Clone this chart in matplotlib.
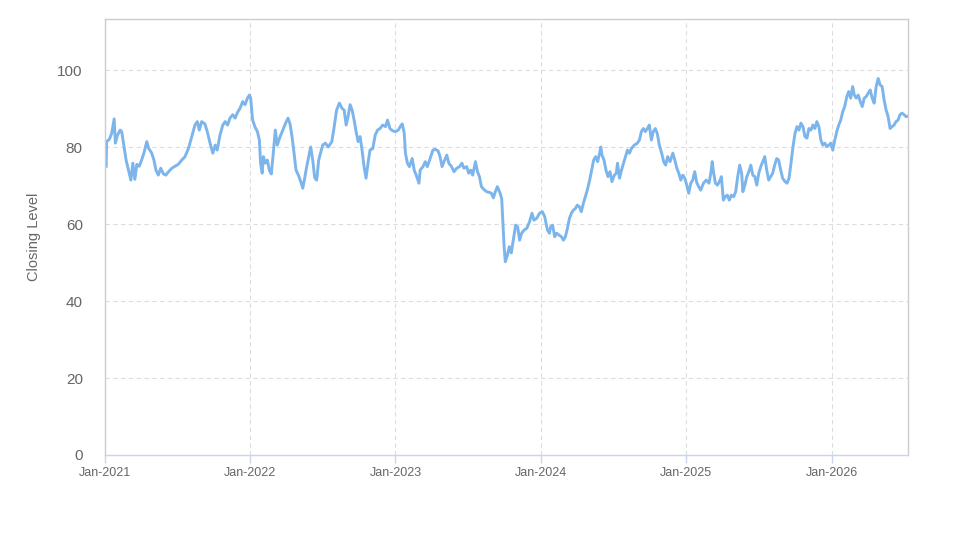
import matplotlib
matplotlib.use("Agg")
import matplotlib.pyplot as plt
import matplotlib.dates as mdates
import pandas as pd

plt.rcParams['font.family'] = ['Liberation Sans', 'DejaVu Sans']

dates = [
    "2021-01-04", "2021-01-05", "2021-01-12", "2021-01-18", "2021-01-24", "2021-01-27", "2021-02-01",
    "2021-02-08", "2021-02-12", "2021-02-18", "2021-02-23", "2021-03-01", "2021-03-07", "2021-03-12",
    "2021-03-17", "2021-03-22", "2021-03-28", "2021-04-03", "2021-04-09", "2021-04-16", "2021-04-21",
    "2021-04-28", "2021-05-04", "2021-05-09", "2021-05-15", "2021-05-21", "2021-05-28", "2021-06-03",
    "2021-06-09", "2021-06-18", "2021-06-26", "2021-07-04", "2021-07-13", "2021-07-21", "2021-07-30",
    "2021-08-07", "2021-08-15", "2021-08-21", "2021-08-26", "2021-09-01", "2021-09-09", "2021-09-15",
    "2021-09-22", "2021-09-29", "2021-10-05", "2021-10-10", "2021-10-17", "2021-10-24", "2021-10-30",
    "2021-11-05", "2021-11-11", "2021-11-18", "2021-11-24", "2021-11-30", "2021-12-06", "2021-12-13",
    "2021-12-19", "2021-12-25", "2021-12-30",
    "2022-01-02", "2022-01-07", "2022-01-13", "2022-01-19", "2022-01-24", "2022-01-27", "2022-01-31",
    "2022-02-03", "2022-02-08", "2022-02-13", "2022-02-18", "2022-02-23", "2022-02-28", "2022-03-05",
    "2022-03-10", "2022-03-17", "2022-03-24", "2022-03-30", "2022-04-06", "2022-04-11", "2022-04-16",
    "2022-04-21", "2022-04-26", "2022-05-02", "2022-05-08", "2022-05-13", "2022-05-18", "2022-05-23",
    "2022-05-28", "2022-06-02", "2022-06-07", "2022-06-12", "2022-06-17", "2022-06-22", "2022-06-27",
    "2022-07-02", "2022-07-09", "2022-07-16", "2022-07-25", "2022-07-31", "2022-08-06", "2022-08-13",
    "2022-08-20", "2022-08-25", "2022-08-30", "2022-09-04", "2022-09-09", "2022-09-14", "2022-09-19",
    "2022-09-24", "2022-09-29", "2022-10-04", "2022-10-09", "2022-10-14", "2022-10-19", "2022-10-24",
    "2022-10-29", "2022-11-05", "2022-11-11", "2022-11-17", "2022-11-23", "2022-11-30", "2022-12-07",
    "2022-12-12", "2022-12-18", "2022-12-25",
    "2023-01-01", "2023-01-08", "2023-01-13", "2023-01-18", "2023-01-23", "2023-01-26", "2023-01-31",
    "2023-02-05", "2023-02-12", "2023-02-17", "2023-02-22", "2023-03-01", "2023-03-04", "2023-03-11",
    "2023-03-17", "2023-03-22", "2023-03-29", "2023-04-05", "2023-04-11", "2023-04-18", "2023-04-23",
    "2023-04-28", "2023-05-03", "2023-05-10", "2023-05-15", "2023-05-22", "2023-05-28", "2023-06-04",
    "2023-06-11", "2023-06-17", "2023-06-22", "2023-06-29", "2023-07-04", "2023-07-09", "2023-07-14",
    "2023-07-21", "2023-07-26", "2023-07-31", "2023-08-05", "2023-08-12", "2023-08-18", "2023-08-25",
    "2023-08-30", "2023-09-04", "2023-09-09", "2023-09-14", "2023-09-21", "2023-09-25", "2023-09-28",
    "2023-10-01", "2023-10-04", "2023-10-09", "2023-10-14", "2023-10-19", "2023-10-24", "2023-10-30",
    "2023-11-04", "2023-11-09", "2023-11-14", "2023-11-20", "2023-11-27", "2023-12-04", "2023-12-10",
    "2023-12-15", "2023-12-22", "2023-12-29",
    "2024-01-05", "2024-01-11", "2024-01-18", "2024-01-23", "2024-01-26", "2024-01-31", "2024-02-05",
    "2024-02-10", "2024-02-15", "2024-02-22", "2024-02-27", "2024-03-03", "2024-03-08", "2024-03-13",
    "2024-03-18", "2024-03-23", "2024-03-28", "2024-04-02", "2024-04-07", "2024-04-12", "2024-04-17",
    "2024-04-22", "2024-04-27", "2024-05-03", "2024-05-08", "2024-05-13", "2024-05-18", "2024-05-23",
    "2024-05-28", "2024-05-31", "2024-06-03", "2024-06-08", "2024-06-13", "2024-06-18", "2024-06-23",
    "2024-06-28", "2024-07-04", "2024-07-09", "2024-07-12", "2024-07-17", "2024-07-22", "2024-07-27",
    "2024-08-01", "2024-08-06", "2024-08-11", "2024-08-16", "2024-08-23", "2024-08-30", "2024-09-05",
    "2024-09-10", "2024-09-15", "2024-09-20", "2024-09-25", "2024-09-30", "2024-10-05", "2024-10-10",
    "2024-10-15", "2024-10-20", "2024-10-25", "2024-10-31", "2024-11-05", "2024-11-10", "2024-11-15",
    "2024-11-21", "2024-11-28", "2024-12-03", "2024-12-08", "2024-12-13", "2024-12-18", "2024-12-23",
    "2024-12-28",
    "2025-01-02", "2025-01-07", "2025-01-12", "2025-01-17", "2025-01-22", "2025-01-27", "2025-02-01",
    "2025-02-06", "2025-02-13", "2025-02-20", "2025-02-27", "2025-03-04", "2025-03-07", "2025-03-10",
    "2025-03-15", "2025-03-20", "2025-03-25", "2025-03-30", "2025-04-04", "2025-04-09", "2025-04-14",
    "2025-04-19", "2025-04-24", "2025-04-30", "2025-05-05", "2025-05-10", "2025-05-15", "2025-05-20",
    "2025-05-23", "2025-05-28", "2025-06-02", "2025-06-07", "2025-06-12", "2025-06-17", "2025-06-22",
    "2025-06-27", "2025-07-02", "2025-07-07", "2025-07-12", "2025-07-17", "2025-07-22", "2025-07-27",
    "2025-08-01", "2025-08-06", "2025-08-11", "2025-08-16", "2025-08-21", "2025-08-26", "2025-08-31",
    "2025-09-06", "2025-09-11", "2025-09-16", "2025-09-21", "2025-09-26", "2025-10-01", "2025-10-06",
    "2025-10-11", "2025-10-16", "2025-10-21", "2025-10-26", "2025-10-31", "2025-11-05", "2025-11-10",
    "2025-11-15", "2025-11-20", "2025-11-25", "2025-11-30", "2025-12-05", "2025-12-10", "2025-12-15",
    "2025-12-20", "2025-12-25", "2025-12-30",
    "2026-01-04", "2026-01-09", "2026-01-14", "2026-01-19", "2026-01-24", "2026-01-29", "2026-02-03",
    "2026-02-08", "2026-02-13", "2026-02-18", "2026-02-23", "2026-02-27", "2026-03-04", "2026-03-09",
    "2026-03-14", "2026-03-19", "2026-03-24", "2026-03-29", "2026-04-03", "2026-04-08", "2026-04-13",
    "2026-04-18", "2026-04-23", "2026-04-28", "2026-05-03", "2026-05-08", "2026-05-13", "2026-05-18",
    "2026-05-23", "2026-05-28", "2026-06-02", "2026-06-07", "2026-06-12", "2026-06-17", "2026-06-22",
    "2026-06-27", "2026-07-02", "2026-07-07", "2026-07-11",
]

closing = [
    75.0, 81.4, 82.0, 83.6, 87.3, 81.0, 83.0,
    84.4, 84.0, 80.0, 76.6, 74.0, 71.4, 75.8,
    71.6, 75.5, 75.0, 76.6, 78.5, 81.4, 79.6,
    78.5, 76.6, 74.0, 72.7, 74.5, 73.0, 72.7,
    73.5, 74.5, 75.0, 75.5, 76.6, 77.5, 79.7,
    82.7, 85.7, 86.6, 84.4, 86.6, 86.0, 84.0,
    81.0, 78.4, 80.5, 79.2, 83.1, 85.7, 86.6,
    85.7, 87.5, 88.4, 87.5, 89.0, 90.0, 91.8,
    91.0, 92.7, 93.5,
    92.7, 87.0, 85.2, 84.0, 81.8, 75.8, 73.2,
    77.5, 75.8, 76.6, 74.0, 73.0, 78.5, 84.4,
    80.5, 82.7, 84.4, 86.0, 87.5, 86.0, 82.7,
    78.5, 74.0, 72.7, 71.0, 69.3, 72.0, 75.0,
    77.5, 80.0, 76.6, 72.0, 71.4, 76.6, 78.5,
    80.5, 81.0, 80.0, 81.4, 85.3, 89.6, 91.4,
    90.0, 89.6, 85.7, 88.0, 91.0, 89.6, 87.0,
    84.0, 81.4, 82.7, 79.2, 74.9, 71.9, 75.8,
    79.2, 79.6, 83.1, 84.4, 84.8, 85.7, 85.3,
    87.0, 84.8, 84.2,
    84.0, 84.4, 85.3, 86.0, 83.6, 78.4, 75.8,
    74.9, 77.0, 74.0, 72.7, 70.6, 74.0, 74.9,
    76.2, 74.9, 77.0, 79.2, 79.4, 79.0, 77.5,
    74.9, 76.2, 77.9, 75.8, 74.9, 73.6, 74.5,
    74.9, 75.8, 74.5, 74.9, 73.2, 74.0, 72.7,
    76.2, 73.6, 72.3, 69.7, 68.9, 68.4, 68.2,
    68.0, 66.8, 68.4, 69.7, 68.0, 66.5, 60.3,
    54.1, 50.2, 51.8, 54.1, 52.5, 55.8, 59.7,
    59.3, 55.8, 57.6, 58.4, 58.9, 60.6, 62.8,
    61.0, 61.5, 62.8,
    63.2, 61.9, 58.4, 57.6, 59.3, 59.7, 56.7,
    57.6, 57.2, 56.7, 55.8, 56.7, 58.8, 61.4,
    62.8, 63.6, 64.0, 64.9, 64.5, 63.2, 65.3,
    67.1, 68.8, 71.4, 74.0, 76.6, 77.5, 76.2,
    78.4, 80.0, 77.9, 76.6, 74.0, 72.3, 73.6,
    71.0, 72.7, 73.2, 75.8, 71.9, 74.0, 75.8,
    77.5, 79.2, 78.4, 79.6, 80.5, 80.9, 81.8,
    84.0, 84.8, 84.0, 84.8, 85.7, 81.8, 84.0,
    84.8, 83.5, 80.5, 78.4, 76.2, 75.3, 77.5,
    76.2, 78.4, 76.6, 74.5, 73.2, 71.4, 72.7,
    71.9,
    70.1, 68.0, 70.6, 71.4, 73.6, 70.8, 69.7,
    68.8, 70.6, 71.4, 70.6, 73.6, 76.2, 73.6,
    70.6, 70.1, 71.0, 72.3, 66.2, 67.1, 67.5,
    66.2, 67.5, 67.1, 68.4, 72.3, 75.3, 73.2,
    68.4, 70.1, 72.3, 73.6, 75.3, 72.7, 72.3,
    70.1, 73.2, 74.9, 76.2, 77.5, 74.0, 71.4,
    72.3, 73.2, 75.3, 77.0, 76.6, 74.0, 71.9,
    71.0, 70.6, 71.9, 75.8, 80.1, 83.5, 85.3,
    84.4, 86.2, 85.3, 82.7, 82.3, 84.8, 84.4,
    85.7, 84.8, 86.6, 85.3, 81.8, 80.5, 81.0,
    80.1, 80.5, 81.0,
    79.2, 81.8, 84.0, 85.7, 87.0, 89.2, 90.5,
    93.0, 94.4, 92.7, 95.7, 93.5, 92.7, 93.5,
    91.8, 90.5, 92.7, 93.1, 94.0, 94.8, 92.7,
    91.4, 95.7, 97.8, 96.1, 95.7, 92.2, 89.6,
    87.9, 84.8, 85.3, 85.7, 86.6, 87.0, 88.4,
    88.8, 88.4, 87.9, 88.0,
]

year_ticks = ["2021-01-01", "2022-01-01", "2023-01-01", "2024-01-01", "2025-01-01", "2026-01-01"]
y_ticks = [0, 20, 40, 60, 80, 100]

x = pd.to_datetime(dates)

fig = plt.figure(figsize=(9.73, 5.47), dpi=100)
ax = fig.add_axes([105 / 973, 1 - 455 / 547, (908 - 105) / 973, (455 - 19) / 547])

ax.plot(x, closing, color="#7cb5ec", linewidth=2.1, solid_joinstyle="round")

ax.set_xlim(pd.Timestamp("2021-01-01"), pd.Timestamp("2026-07-12"))
ax.set_ylim(0, 113.25)

ax.set_xticks(pd.to_datetime(year_ticks))
ax.xaxis.set_major_formatter(mdates.DateFormatter("%b-%Y"))
ax.set_yticks(y_ticks)

ax.grid(True, color="#dddddd", linestyle=(0, (4, 3)), linewidth=0.8)
ax.set_axisbelow(True)

for side in ["left", "top", "right"]:
    ax.spines[side].set_color("#cccccc")
    ax.spines[side].set_linewidth(1.0)
ax.spines["bottom"].set_color("#ccd6eb")
ax.spines["bottom"].set_linewidth(1.0)

ax.tick_params(axis="y", length=0, pad=16, labelsize=11, labelcolor="#666666")
ax.tick_params(axis="x", length=6, width=1, color="#ccd6eb", pad=3, labelsize=9, labelcolor="#666666")

ax.set_ylabel("Closing Level", fontsize=10.5, color="#666666", labelpad=12)

fig.savefig("out.png", dpi=100)
